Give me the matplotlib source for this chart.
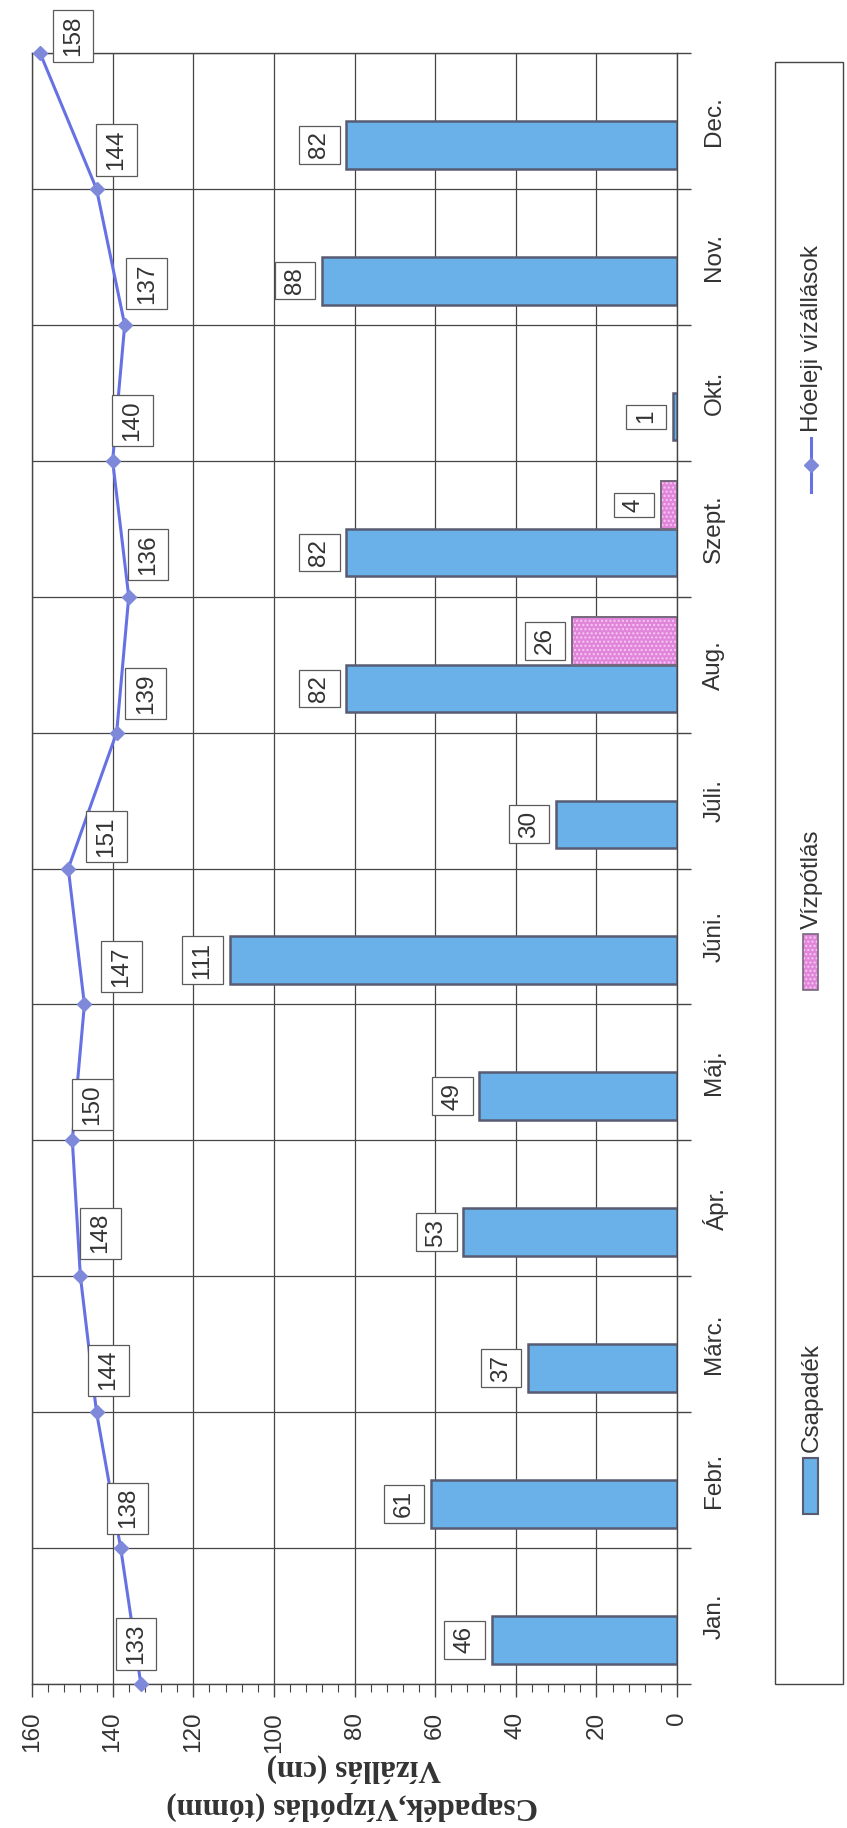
import numpy as np
import matplotlib
matplotlib.use('Agg')
import matplotlib.pyplot as plt
from matplotlib.patches import Rectangle
from matplotlib.lines import Line2D
from matplotlib.path import Path

months = ['Jan.', 'Febr.', 'Márc.', 'Ápr.', 'Máj.', 'Júni.',
          'Júli.', 'Aug.', 'Szept.', 'Okt.', 'Nov.', 'Dec.']
csapadek = [46, 61, 37, 53, 49, 111, 30, 82, 82, 1, 88, 82]
vizpotlas = [0, 0, 0, 0, 0, 0, 0, 26, 4, 0, 0, 0]
vizallas = [133, 138, 144, 148, 150, 147, 151, 139, 136, 140, 137, 144, 158]
legend_names = ['Csapadék', 'Vízpótlás', 'Hóeleji vízállások']

# label nudges for the water level labels (pixels, right / up)
lbl_dx = [-5, 7, 12, 20, 20, 37, 38, 29, 19, 20, 22, 20, 33]
lbl_dy = [40, 40, 42, 43, 36, 38, 32, 39, 42, 40, 41, 39, 17]

plt.rcParams['font.family'] = ['Liberation Sans', 'DejaVu Sans']

W, H = 847, 1828
fs = 17.5
txt = '#333333'
grid_c = '#454545'
blue = '#69b1e8'
bar_edge = '#575c72'
pink = '#e085da'
line_c = '#6672e4'
mark_c = '#7e89da'

def fx(x):
    return x / W

def fy(y):
    return 1 - y / H

# excel style label box: little padding along the text, more across it
def lbl_box(x0, y0, width, height, mutation_size):
    px = 0.22 * mutation_size
    py = 0.38 * mutation_size
    return Path([(x0 - px, y0 - py), (x0 + width + px, y0 - py),
                 (x0 + width + px, y0 + height + py),
                 (x0 - px, y0 + height + py), (x0 - px, y0 - py)],
                closed=True)

fig = plt.figure(figsize=(W / 100, H / 100), dpi=100)
ax = fig.add_axes([fx(32), fy(1684), fx(677) - fx(32), fy(53) - fy(1684)])

bw = 1 / 2.85
idx = np.arange(len(months))
cs = np.array(csapadek)
vp = np.array(vizpotlas)
m = vp > 0

ax.barh(idx + 0.5 - bw, cs, height=bw, align='edge', color=blue,
        edgecolor=bar_edge, linewidth=1.8, zorder=3)
ax.barh(idx[m] + 0.5, vp[m], height=bw, align='edge', color=pink,
        edgecolor='#f7c9f3', hatch='....', linewidth=0, zorder=3)
ax.barh(idx[m] + 0.5, vp[m], height=bw, align='edge', fill=False,
        edgecolor='#76687c', linewidth=1.4, zorder=3)

ax.plot(vizallas, np.arange(len(vizallas)), color=line_c, lw=2.2,
        marker='D', ms=7.5, mfc=mark_c, mec=mark_c, zorder=5, clip_on=False)

box = dict(boxstyle=lbl_box, fc='white', ec='#5a5a5a', lw=0.9)

for i, v in enumerate(vizallas):
    ax.annotate(str(v), (v, i), xytext=(lbl_dx[i], lbl_dy[i]),
                textcoords='offset pixels', rotation=90, ha='center',
                va='center', fontsize=fs, color=txt, bbox=box, zorder=6,
                annotation_clip=False)

for i, v in enumerate(csapadek):
    if v > 0:
        ax.annotate(str(v), (v, i + 0.5 - bw / 2), xytext=(-16, 0),
                    textcoords='offset pixels', rotation=90, ha='right',
                    va='center', fontsize=fs, color=txt, bbox=box, zorder=6)
for i, v in enumerate(vizpotlas):
    if v > 0:
        ax.annotate(str(v), (v, i + 0.5 + bw / 2), xytext=(-16, 0),
                    textcoords='offset pixels', rotation=90, ha='right',
                    va='center', fontsize=fs, color=txt, bbox=box, zorder=6)

# value axis (bottom, reversed)
ax.set_xlim(160, 0)
ax.set_xticks(range(0, 161, 20))
ax.set_xticks(range(0, 161, 4), minor=True)
ax.tick_params(axis='x', which='major', direction='out', length=9, width=1,
               pad=11, labelsize=fs, labelrotation=90, colors=grid_c,
               labelcolor=txt)
ax.tick_params(axis='x', which='minor', direction='out', length=6,
               width=0.8, colors=grid_c)

# month axis (right)
ax.set_ylim(0, 12)
ax.yaxis.tick_right()
ax.set_yticks(range(13))
ax.set_yticklabels([])
ax.set_yticks(idx + 0.5, minor=True)
ax.set_yticklabels(months, minor=True)
ax.tick_params(axis='y', which='major', direction='out', length=10,
               width=1, colors=grid_c, left=False, right=True)
ax.tick_params(axis='y', which='minor', length=0, pad=19, labelsize=fs,
               labelrotation=90, labelcolor=txt, left=False, right=False)
for lb in ax.get_yticklabels(minor=True):
    lb.set_va('center')

ax.set_axisbelow(True)
ax.grid(True, which='major', axis='both', color=grid_c, lw=0.9)
for s in ax.spines.values():
    s.set_color(grid_c)
    s.set_linewidth(1)

# axis titles, upside down like the scan
fig.text(fx(354), fy(1768), 'Vízállás (cm)', rotation=180, ha='center',
         va='center', family='Liberation Serif', weight='bold',
         fontsize=22.5, color=txt)
fig.text(fx(352), fy(1806), 'Csapadék,Vízpótlás (tómm)', rotation=180,
         ha='center', va='center', family='Liberation Serif', weight='bold',
         fontsize=22.5, color=txt)

# legend drawn by hand (rotated)
fig.patches.append(Rectangle((fx(775), fy(1684)), fx(843) - fx(775),
                             fy(62) - fy(1684), transform=fig.transFigure,
                             fill=False, ec=grid_c, lw=1))
fig.patches.append(Rectangle((fx(803), fy(1514)), fx(15), 56 / H,
                             transform=fig.transFigure, fc=blue,
                             ec=bar_edge, lw=1.5))
fig.text(fx(812), fy(1452), legend_names[0], rotation=90, ha='center',
         va='bottom', fontsize=fs, color=txt)
fig.patches.append(Rectangle((fx(803), fy(990)), fx(15), 56 / H,
                             transform=fig.transFigure, fc=pink,
                             ec='#f7c9f3', hatch='....', lw=0))
fig.patches.append(Rectangle((fx(803), fy(990)), fx(15), 56 / H,
                             transform=fig.transFigure, fill=False,
                             ec='#76687c', lw=1.2))
fig.text(fx(812), fy(929), legend_names[1], rotation=90, ha='center',
         va='bottom', fontsize=fs, color=txt)
fig.lines.append(Line2D([fx(811), fx(811)], [fy(492), fy(438)],
                        transform=fig.transFigure, color=line_c, lw=2.2))
fig.lines.append(Line2D([fx(811)], [fy(465)], transform=fig.transFigure,
                        marker='D', ms=7.5, mfc=mark_c, mec=mark_c))
fig.text(fx(812), fy(432), legend_names[2], rotation=90, ha='center',
         va='bottom', fontsize=fs, color=txt)

fig.savefig('out.png', dpi=100)
